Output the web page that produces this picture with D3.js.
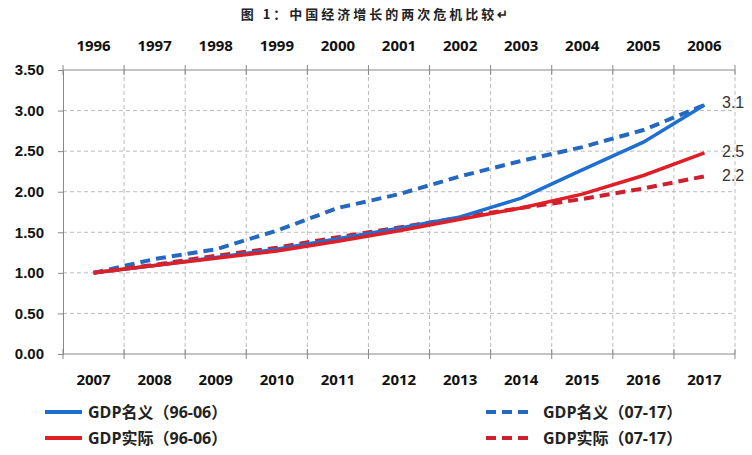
<!DOCTYPE html>
<html>
<head>
<meta charset="utf-8">
<script src="https://cdn.jsdelivr.net/npm/d3@7"></script>
<style>
  body { margin: 0; background: #fff; }
  svg { font-family: "Open Sans", "Noto Sans CJK SC", sans-serif; }
</style>
</head>
<body>
<svg></svg>
<script>
var svg = d3.select("svg")
    .attr("width", 752)
    .attr("height", 455);

var topYears = ["1996","1997","1998","1999","2000","2001","2002","2003","2004","2005","2006"];
var bottomYears = ["2007","2008","2009","2010","2011","2012","2013","2014","2015","2016","2017"];
var yTicks = [0, 0.5, 1, 1.5, 2, 2.5, 3, 3.5];

var nominal9606 = [1.00, 1.09, 1.19, 1.29, 1.42, 1.55, 1.69, 1.92, 2.27, 2.61, 3.07];
var real9606    = [1.00, 1.09, 1.18, 1.27, 1.39, 1.52, 1.66, 1.80, 1.97, 2.20, 2.48];
var nominal0717 = [1.00, 1.17, 1.29, 1.52, 1.80, 1.97, 2.19, 2.38, 2.55, 2.76, 3.07];
var real0717    = [1.00, 1.10, 1.21, 1.31, 1.44, 1.56, 1.68, 1.80, 1.91, 2.04, 2.19];

var endLabels = ["3.1", "2.5", "2.2"];
var endValues = [3.1, 2.5, 2.2];

var plotL = 63, plotR = 735, plotT = 70, plotB = 354;

var x = d3.scaleBand().domain(d3.range(11)).range([plotL, plotR]);
var y = d3.scaleLinear().domain([0, 3.5]).range([plotB, plotT]);

// title
svg.append("text")
    .attr("x", 376).attr("y", 19)
    .attr("text-anchor", "middle")
    .attr("font-family", "Noto Sans CJK SC")
    .attr("font-size", 13)
    .attr("font-weight", "bold")
    .attr("letter-spacing", 3)
    .attr("fill", "#222")
    .text("图 1：中国经济增长的两次危机比较↵");

// grid
var grid = svg.append("g");
grid.selectAll(".hg")
    .data(yTicks.filter(d => d > 0 && d < 3.5))
    .enter().append("line")
    .attr("x1", plotL).attr("x2", plotR)
    .attr("y1", d => y(d)).attr("y2", d => y(d))
    .attr("stroke", "#bbb").attr("stroke-dasharray", "4,3");
grid.selectAll(".vg")
    .data(d3.range(1, 12))
    .enter().append("line")
    .attr("x1", d => plotL + d * x.step()).attr("x2", d => plotL + d * x.step())
    .attr("y1", plotT).attr("y2", plotB)
    .attr("stroke", "#bbb").attr("stroke-dasharray", "4,3");

// axes
var yAxis = svg.append("g")
    .attr("transform", `translate(${plotL},0)`)
    .call(d3.axisLeft(y).tickValues(yTicks).tickFormat(d3.format(".2f")).tickSize(5).tickPadding(14));
yAxis.select(".domain").attr("stroke", "#888");
yAxis.selectAll(".tick line").attr("stroke", "#888");
yAxis.selectAll("text").attr("font-size", 15).attr("font-weight", "bold").attr("fill", "#111");

var tickPos = d3.range(12).map(d => plotL + d * x.step());
[plotT, plotB].forEach(function(yy) {
    svg.append("line")
        .attr("x1", plotL).attr("x2", plotR)
        .attr("y1", yy).attr("y2", yy)
        .attr("stroke", "#888");
    svg.append("g").selectAll("line")
        .data(tickPos)
        .enter().append("line")
        .attr("x1", d => d).attr("x2", d => d)
        .attr("y1", yy - 5).attr("y2", yy + 5)
        .attr("stroke", "#888");
});

svg.append("g").selectAll("text")
    .data(topYears)
    .enter().append("text")
    .attr("x", (d, i) => x(i) + x.bandwidth() / 2)
    .attr("y", 51)
    .attr("text-anchor", "middle")
    .attr("font-size", 15).attr("font-weight", "bold").attr("fill", "#111")
    .text(d => d);

svg.append("g").selectAll("text")
    .data(bottomYears)
    .enter().append("text")
    .attr("x", (d, i) => x(i) + x.bandwidth() / 2)
    .attr("y", 385)
    .attr("text-anchor", "middle")
    .attr("font-size", 15).attr("font-weight", "bold").attr("fill", "#111")
    .text(d => d);

// lines
var line = d3.line()
    .x((d, i) => x(i) + x.bandwidth() / 2)
    .y(d => y(d));

var series = [
    {name: "GDP名义（96-06）", values: nominal9606, color: "#1f6fd0", dash: null},
    {name: "GDP实际（96-06）", values: real9606, color: "#e01e25", dash: null},
    {name: "GDP名义（07-17）", values: nominal0717, color: "#2568c0", dash: "10,6"},
    {name: "GDP实际（07-17）", values: real0717, color: "#cc2030", dash: "10,6"}
];

svg.append("g").selectAll("path")
    .data([series[2], series[3], series[0], series[1]])
    .enter().append("path")
    .attr("d", d => line(d.values))
    .attr("fill", "none")
    .attr("stroke", d => d.color)
    .attr("stroke-width", d => d.dash ? 4 : 3.5)
    .attr("stroke-dasharray", d => d.dash);

// end labels
svg.append("g").selectAll("text")
    .data(endLabels)
    .enter().append("text")
    .attr("x", 722)
    .attr("y", (d, i) => y(endValues[i]) + 6)
    .attr("font-family", "Liberation Sans")
    .attr("font-size", 16).attr("fill", "#333")
    .text(d => d);

// legend
var legendPos = [
    {x: 45, y: 412}, {x: 486, y: 412},
    {x: 45, y: 438}, {x: 486, y: 438}
];
var legendOrder = [series[0], series[2], series[1], series[3]];
var legend = svg.append("g").selectAll("g")
    .data(legendOrder)
    .enter().append("g")
    .attr("transform", (d, i) => `translate(${legendPos[i].x},${legendPos[i].y})`);
legend.append("line")
    .attr("x1", 0).attr("x2", d => d.dash ? 44 : 37)
    .attr("y1", 0).attr("y2", 0)
    .attr("stroke", d => d.color)
    .attr("stroke-width", 4)
    .attr("stroke-dasharray", d => d.dash ? "10,6" : null);
legend.append("text")
    .attr("x", d => d.dash ? 57 : 43)
    .attr("y", 6)
    .attr("font-size", 16).attr("font-weight", "bold").attr("fill", "#222")
    .text(d => d.name);
</script>
</body>
</html>
